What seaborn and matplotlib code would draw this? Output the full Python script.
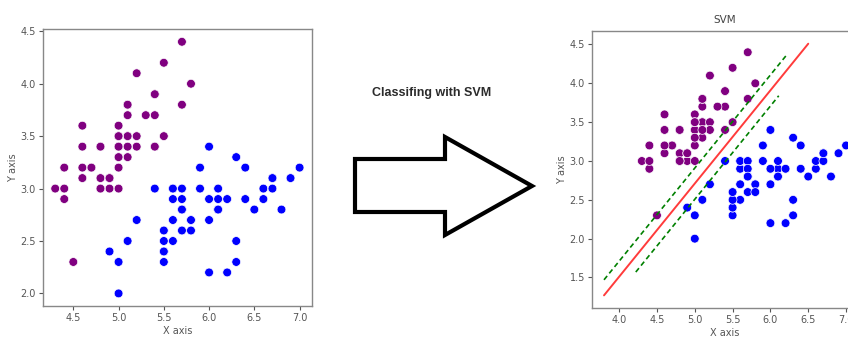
import numpy as np
import pandas as pd
import seaborn as sns
import matplotlib.pyplot as plt
from matplotlib.patches import Polygon

# sepal length / sepal width, two classes
setosa_x = [5.1, 4.9, 4.7, 4.6, 5.0, 5.4, 4.6, 5.0, 4.4, 4.9, 5.4, 4.8, 4.8, 4.3, 5.8, 5.7, 5.4,
            5.1, 5.7, 5.1, 5.4, 5.1, 4.6, 5.1, 4.8, 5.0, 5.0, 5.2, 5.2, 4.7, 4.8, 5.4, 5.2, 5.5,
            4.9, 5.0, 5.5, 4.9, 4.4, 5.1, 5.0, 4.5, 4.4, 5.0, 5.1, 4.8, 5.1, 4.6, 5.3, 5.0]
setosa_y = [3.5, 3.0, 3.2, 3.1, 3.6, 3.9, 3.4, 3.4, 2.9, 3.1, 3.7, 3.4, 3.0, 3.0, 4.0, 4.4, 3.9,
            3.5, 3.8, 3.8, 3.4, 3.7, 3.6, 3.3, 3.4, 3.0, 3.4, 3.5, 3.4, 3.2, 3.1, 3.4, 4.1, 4.2,
            3.1, 3.2, 3.5, 3.1, 3.0, 3.4, 3.5, 2.3, 3.2, 3.5, 3.8, 3.0, 3.8, 3.2, 3.7, 3.3]
versi_x = [7.0, 6.4, 6.9, 5.5, 6.5, 5.7, 6.3, 4.9, 6.6, 5.2, 5.0, 5.9, 6.0, 6.1, 5.6, 6.7, 5.6,
           5.8, 6.2, 5.6, 5.9, 6.1, 6.3, 6.1, 6.4, 6.6, 6.8, 6.7, 6.0, 5.7, 5.5, 5.5, 5.8, 6.0,
           5.4, 6.0, 6.7, 6.3, 5.6, 5.5, 5.5, 6.1, 5.8, 5.0, 5.6, 5.7, 5.7, 6.2, 5.1, 5.7]
versi_y = [3.2, 3.2, 3.1, 2.3, 2.8, 2.8, 3.3, 2.4, 2.9, 2.7, 2.0, 3.0, 2.2, 2.9, 2.9, 3.1, 3.0,
           2.7, 2.2, 2.5, 3.2, 2.8, 2.5, 2.8, 2.9, 3.0, 2.8, 3.0, 2.9, 2.6, 2.4, 2.4, 2.7, 2.7,
           3.0, 3.4, 3.1, 2.3, 3.0, 2.5, 2.6, 3.0, 2.6, 2.3, 2.7, 3.0, 2.9, 2.9, 2.5, 2.8]

# svm decision line and margins (end points)
line_x = [3.8, 6.5]
line_y = [1.27, 4.51]
upper_x = [3.8, 6.21]
upper_y = [1.47, 4.36]
lower_x = [4.22, 6.11]
lower_y = [1.57, 3.84]

df = pd.DataFrame({
    "x": setosa_x + versi_x,
    "y": setosa_y + versi_y,
    "cls": ["a"] * len(setosa_x) + ["b"] * len(versi_x),
})
pal = {"a": "purple", "b": "blue"}

sns.set_style("white")
plt.rcParams["font.family"] = ["DejaVu Sans"]

fig = plt.figure(figsize=(8.48, 3.46), dpi=100)
ax1 = fig.add_axes([0.0507, 0.1156, 0.317, 0.80])
ax2 = fig.add_axes([0.698, 0.110, 0.314, 0.80])

for ax in (ax1, ax2):
    sns.scatterplot(data=df, x="x", y="y", hue="cls", palette=pal, s=40,
                    edgecolor="white", linewidth=0.5, legend=False, ax=ax)

ax2.plot(line_x, line_y, color="#ff3b3b", lw=1.4)
ax2.plot(upper_x, upper_y, color="green", ls=(0, (3, 2)), lw=1.2)
ax2.plot(lower_x, lower_y, color="green", ls=(0, (3, 2)), lw=1.2)
ax2.set_title("SVM", fontsize=7.5, color="#444444")

ax1.set_xticks([4.5, 5.0, 5.5, 6.0, 6.5, 7.0])
ax2.set_xticks([4.0, 4.5, 5.0, 5.5, 6.0, 6.5, 7.0])
ax1.set_yticks([2.0, 2.5, 3.0, 3.5, 4.0, 4.5])
ax2.set_yticks([1.5, 2.0, 2.5, 3.0, 3.5, 4.0, 4.5])

for ax in (ax1, ax2):
    ax.set_xlabel("X axis", fontsize=7, color="#555555", labelpad=2)
    ax.set_ylabel("Y axis", fontsize=7, color="#555555", labelpad=2)
    ax.tick_params(labelsize=7, colors="#555555", length=3, width=0.8,
                   bottom=True, left=True, pad=2)
    for sp in ax.spines.values():
        sp.set_color("#888888")
        sp.set_linewidth(1.0)

fig.text(0.509, 0.73, "Classifing with SVM", ha="center", va="center",
         fontsize=9, fontweight="bold", color="#2b2b2b",
         family=["Liberation Sans Narrow", "Liberation Sans", "DejaVu Sans"])

# outline arrow in the middle (pixel coords -> figure fraction)
W, H = 848.0, 346.0
pts = [(355, 159), (445, 159), (445, 137), (532, 186), (445, 235), (445, 212), (355, 212)]
arrow = Polygon([(px / W, 1 - py / H) for px, py in pts], closed=True,
                facecolor="white", edgecolor="black", linewidth=3,
                joinstyle="miter", transform=fig.transFigure)
fig.patches.append(arrow)

plt.savefig("out.png", dpi=100)
